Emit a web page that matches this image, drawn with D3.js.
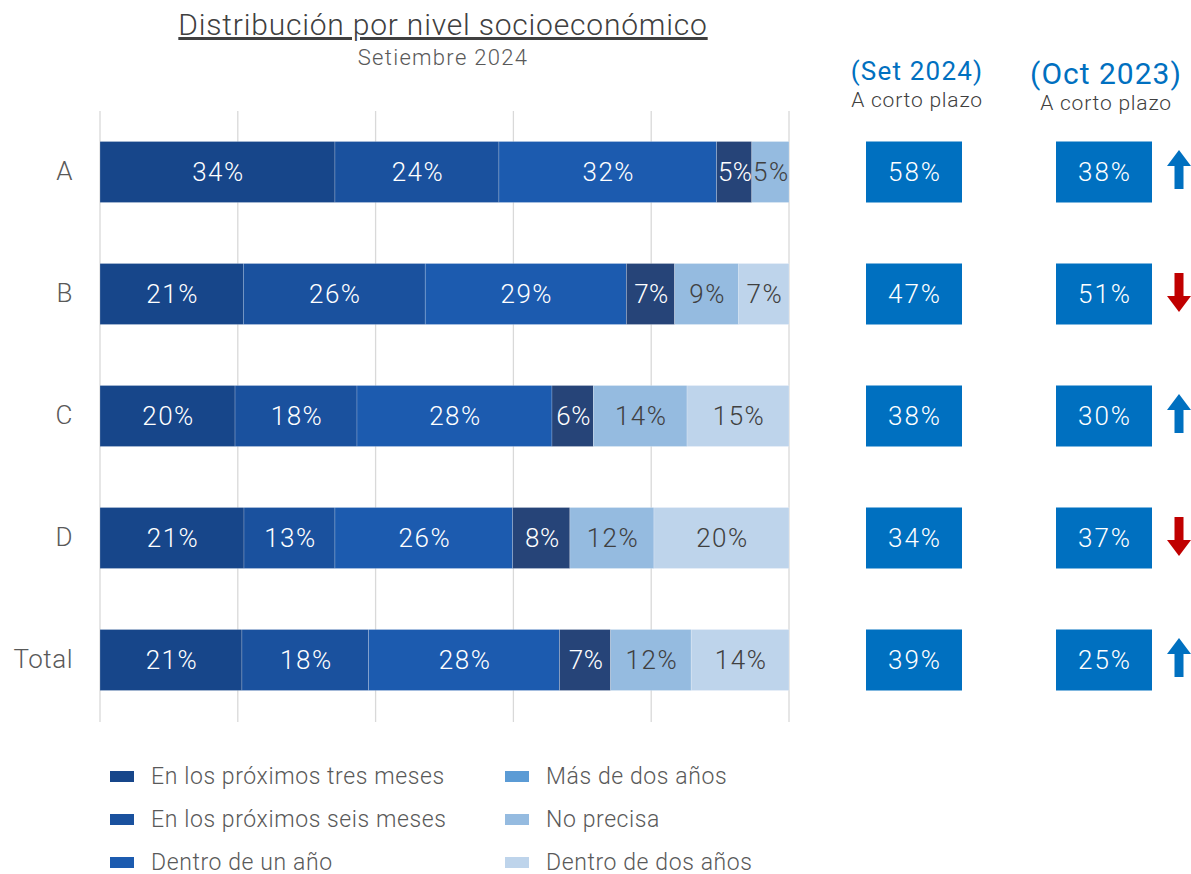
<!DOCTYPE html>
<html>
<head>
<meta charset="utf-8">
<script src="https://cdn.jsdelivr.net/npm/d3@7"></script>
<style>
  html, body { margin: 0; padding: 0; background: #ffffff; }
  svg { display: block; font-family: "Roboto", "Liberation Sans", sans-serif; font-weight: 300; }
</style>
</head>
<body>
<svg id="chart" width="1191" height="874"></svg>
<script>
// ---- Data ----
const categories = ["A", "B", "C", "D", "Total"];
const seriesNames = [
  "En los próximos tres meses",
  "En los próximos seis meses",
  "Dentro de un año",
  "Más de dos años",
  "No precisa",
  "Dentro de dos años"
];
const tresMeses   = [34.1, 20.8, 19.6, 20.9, 20.6];
const seisMeses   = [23.8, 26.4, 17.7, 13.2, 18.4];
const unAnio      = [31.6, 29.2, 28.3, 25.8, 27.7];
const masDosAnios = [5.1, 7.0, 6.0, 8.3, 7.4];
const noPrecisa   = [5.4, 9.3, 13.6, 12.2, 11.7];
const dosAnios    = [0, 7.3, 14.8, 19.6, 14.2];
const set2024 = [58, 47, 38, 34, 39];
const oct2023 = [38, 51, 30, 37, 25];
const xTicks = [0, 20, 40, 60, 80, 100];

// ---- Styles ----
const barColors    = ["#17468a", "#1a519e", "#1c5baf", "#264478", "#95bbe0", "#bed4eb"];
const legendColors = ["#17468a", "#1a519e", "#1c5baf", "#5b9bd5", "#95bbe0", "#bed4eb"];
const labelColors  = ["#ffffff", "#ffffff", "#ffffff", "#ffffff", "#404040", "#404040"];
const boxBlue = "#0070c0", upColor = "#0070c0", downColor = "#c00000";

const seriesValues = [tresMeses, seisMeses, unAnio, masDosAnios, noPrecisa, dosAnios];
const rows = categories.map((c, i) => {
  const r = { cat: c };
  seriesNames.forEach((s, j) => r[s] = seriesValues[j][i]);
  return r;
});
const stacked = d3.stack().keys(seriesNames)(rows);

const svg = d3.select("#chart");

const x = d3.scaleLinear().domain([0, 100]).range([100, 789]);
const y = d3.scaleBand().domain(categories).range([111, 721]).paddingInner(0.5).paddingOuter(0.25);

// Gridlines
svg.append("g").selectAll("line").data(xTicks).join("line")
  .attr("x1", d => x(d)).attr("x2", d => x(d))
  .attr("y1", 111).attr("y2", 722)
  .attr("stroke", "#d9d9d9").attr("stroke-width", 1.3);

// Bars
const layers = svg.append("g").selectAll("g").data(stacked).join("g")
  .attr("fill", (d, i) => barColors[i]);
layers.selectAll("rect").data(d => d.filter(p => p[1] - p[0] > 0)).join("rect")
  .attr("x", d => x(d[0]))
  .attr("width", d => x(d[1]) - x(d[0]))
  .attr("y", d => y(d.data.cat))
  .attr("height", y.bandwidth())
  .attr("stroke", "rgba(255,255,255,0.35)").attr("stroke-width", 0.6);

// Bar labels
stacked.forEach((layer, i) => {
  svg.append("g").selectAll("text").data(layer.filter(p => p[1] - p[0] > 0)).join("text")
    .attr("x", d => (x(d[0]) + x(d[1])) / 2 + 1)
    .attr("y", d => y(d.data.cat) + y.bandwidth() / 2)
    .attr("text-anchor", "middle").attr("dominant-baseline", "central")
    .attr("font-size", 26).attr("letter-spacing", i === 3 || (i === 4 && d3.max(layer, p => p[1] - p[0]) < 6) ? 0.5 : 1.5)
    .attr("fill", labelColors[i])
    .text(d => Math.round(d[1] - d[0]) + "%");
});

// Category axis labels
const yAxis = d3.axisLeft(y).tickSize(0).tickPadding(0);
const ya = svg.append("g").attr("transform", "translate(73,0)").call(yAxis);
ya.select(".domain").remove();
ya.selectAll("text").attr("font-size", 26).attr("fill", "#595959")
  .attr("font-family", "Roboto, sans-serif").attr("font-weight", 300)
  .attr("letter-spacing", 0.5);

// Title
svg.append("text").attr("x", 443).attr("y", 35).attr("text-anchor", "middle")
  .attr("font-size", 30).attr("letter-spacing", 0.8).attr("fill", "#404040").attr("text-decoration", "underline")
  .text("Distribución por nivel socioeconómico");
svg.append("text").attr("x", 443).attr("y", 65).attr("text-anchor", "middle")
  .attr("font-size", 22).attr("letter-spacing", 1.3).attr("fill", "#595959").text("Setiembre 2024");

// Right headers
svg.append("text").attr("x", 917).attr("y", 80).attr("text-anchor", "middle")
  .attr("font-size", 26).attr("letter-spacing", 1.2).attr("fill", boxBlue).attr("font-weight", 400).text("(Set 2024)");
svg.append("text").attr("x", 917).attr("y", 107).attr("text-anchor", "middle")
  .attr("font-size", 21).attr("letter-spacing", 0.8).attr("fill", "#404040").text("A corto plazo");
svg.append("text").attr("x", 1106).attr("y", 84).attr("text-anchor", "middle")
  .attr("font-size", 30).attr("letter-spacing", 1).attr("fill", boxBlue).attr("font-weight", 400).text("(Oct 2023)");
svg.append("text").attr("x", 1106).attr("y", 110).attr("text-anchor", "middle")
  .attr("font-size", 21).attr("letter-spacing", 0.8).attr("fill", "#404040").text("A corto plazo");

// Side boxes
function boxes(vals, x0) {
  const g = svg.append("g");
  g.selectAll("rect").data(vals).join("rect")
    .attr("x", x0).attr("width", 96)
    .attr("y", (d, i) => y(categories[i])).attr("height", y.bandwidth())
    .attr("fill", boxBlue);
  g.selectAll("text").data(vals).join("text")
    .attr("x", x0 + 49).attr("y", (d, i) => y(categories[i]) + y.bandwidth() / 2)
    .attr("text-anchor", "middle").attr("dominant-baseline", "central")
    .attr("font-size", 26).attr("letter-spacing", 2).attr("fill", "#ffffff").text(d => d + "%");
}
boxes(set2024, 866);
boxes(oct2023, 1056);

// Arrows
const arrowUp = "M0,-20 L12,-4 L4.5,-4 L4.5,19 L-4.5,19 L-4.5,-4 L-12,-4 Z";
svg.append("g").selectAll("path").data(categories).join("path")
  .attr("transform", (c, i) => {
    const cy = y(c) + y.bandwidth() / 2 - 2;
    return set2024[i] >= oct2023[i] ? `translate(1179,${cy})` : `translate(1179,${cy}) rotate(180)`;
  })
  .attr("d", arrowUp)
  .attr("fill", (c, i) => set2024[i] >= oct2023[i] ? upColor : downColor);

// Legend
const legendPos = [[110, 776], [110, 819], [110, 862], [505, 776], [505, 819], [505, 862]];
const lg = svg.append("g").selectAll("g").data(seriesNames).join("g")
  .attr("transform", (d, i) => `translate(${legendPos[i][0]},${legendPos[i][1]})`);
lg.append("rect").attr("x", 0).attr("y", -5).attr("width", 24).attr("height", 11)
  .attr("fill", (d, i) => legendColors[i]);
lg.append("text").attr("x", 41).attr("y", 0).attr("dominant-baseline", "central")
  .attr("font-size", 23).attr("letter-spacing", 0.6).attr("fill", "#595959").text(d => d);
</script>
</body>
</html>
